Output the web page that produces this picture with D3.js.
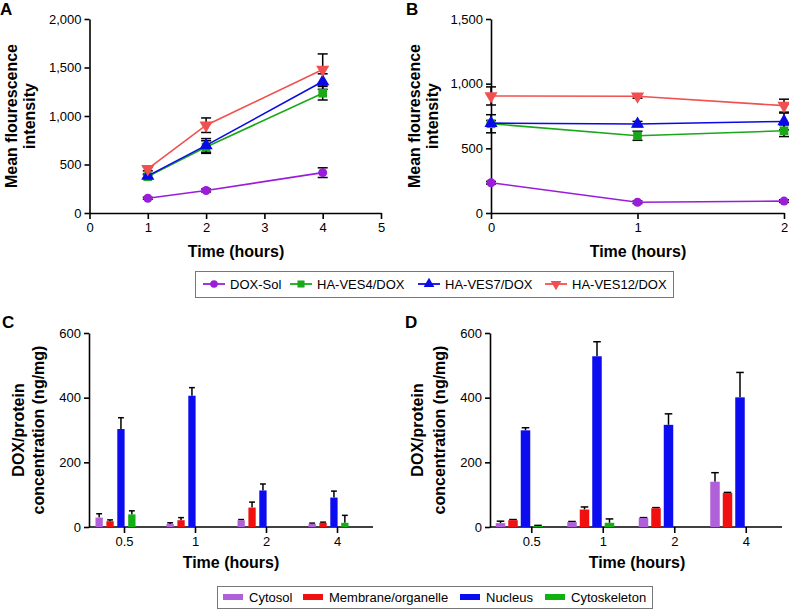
<!DOCTYPE html>
<html><head><meta charset="utf-8">
<script src="https://cdn.jsdelivr.net/npm/d3@7"></script>
<style>body{margin:0;background:#fff} text{font-family:"Liberation Sans",Arial,sans-serif;fill:#000}</style>
</head><body><svg id="c" width="789" height="610"></svg>
<script>
// ---------- DATA ----------
const lineSeries = ["DOX-Sol","HA-VES4/DOX","HA-VES7/DOX","HA-VES12/DOX"];
const timesA = [1,2,4];
const aDoxSol = [152,232,416];   const aDoxSolErr = [10,15,50];
const aVes4   = [375,680,1235];  const aVes4Err   = [20,65,70];
const aVes7   = [383,697,1355];  const aVes7Err   = [20,70,80];
const aVes12  = [455,905,1480];  const aVes12Err  = [20,75,160];
const timesB = [0,1,2];
const bDoxSol = [234,83,92];     const bDoxSolErr = [10,10,10];
const bVes4   = [690,597,636];   const bVes4Err   = [70,35,45];
const bVes7   = [695,688,708];   const bVes7Err   = [20,20,65];
const bVes12  = [905,903,830];   const bVes12Err  = [70,15,50];
const yTicksA = [0,500,1000,1500,2000];
const xTicksA = [0,1,2,3,4,5];
const yTicksB = [0,500,1000,1500];
const xTicksB = [0,1,2];

const barCategories = ["0.5","1","2","4"];
const compartments = ["Cytosol","Membrane/organelle","Nucleus","Cytoskeleton"];
const cCytosol  = [29,9,21,10];    const cCytosolErr  = [12,4,2,2];
const cMembrane = [18,21,60,13];   const cMembraneErr = [4,8,17,2];
const cNucleus  = [303,406,113,91];const cNucleusErr  = [35,25,20,20];
const cCytoskel = [39,0,0,13];     const cCytoskelErr = [11,0,0,23];
const dCytosol  = [12,15,28,140];  const dCytosolErr  = [6,2,1,28];
const dMembrane = [21,54,58,105];  const dMembraneErr = [2,8,2,2];
const dNucleus  = [299,528,316,401];const dNucleusErr = [8,45,34,77];
const dCytoskel = [3,13,0,0];      const dCytoskelErr = [2,12,0,0];
const yTicksCD = [0,200,400,600];

// ---------- STYLE ----------
const lineColors = ["#9b1ddb","#1aa81a","#0a0ae6","#f25050"];
const lineSymbols = [d3.symbolCircle, d3.symbolSquare, d3.symbolTriangle, d3.symbolTriangle];
const barColors = ["#b060d8","#f01010","#0c0cf0","#12b012"];

const svg = d3.select("#c");
svg.append("rect").attr("width",789).attr("height",610).attr("fill","#fff");

function styleAxis(g){
  g.selectAll("path.domain").attr("stroke","#000").attr("stroke-width",1.6);
  g.selectAll(".tick line").attr("stroke","#000").attr("stroke-width",1.6);
  g.selectAll(".tick text").attr("font-size",13).attr("fill","#000")
    .attr("font-family","'Liberation Sans',Arial,sans-serif");
}

function panelLabel(txt,x,y){
  svg.append("text").attr("x",x).attr("y",y).attr("font-size",17).attr("font-weight","bold").text(txt);
}
function yTitle(lines,x1,x2,cy){
  [x1,x2].forEach((x,i)=>{
    svg.append("text").attr("transform",`translate(${x},${cy}) rotate(-90)`)
      .attr("text-anchor","middle").attr("font-size",16).attr("font-weight","bold").text(lines[i]);
  });
}
function xTitle(cx,y){
  svg.append("text").attr("x",cx).attr("y",y).attr("text-anchor","middle")
    .attr("font-size",16).attr("font-weight","bold").text("Time (hours)");
}

function linePanel(p){
  const x = d3.scaleLinear().domain(p.xDomain).range(p.xRange);
  const y = d3.scaleLinear().domain(p.yDomain).range(p.yRange);
  const gx = svg.append("g").attr("transform",`translate(0,${p.yRange[0]})`)
    .call(d3.axisBottom(x).tickValues(p.xTicks).tickFormat(d3.format("d")).tickSize(6).tickSizeOuter(0).tickPadding(4));
  styleAxis(gx);
  const gy = svg.append("g").attr("transform",`translate(${p.xRange[0]},0)`)
    .call(d3.axisLeft(y).tickValues(p.yTicks).tickFormat(d3.format(",")).tickSize(5).tickSizeOuter(0).tickPadding(3));
  styleAxis(gy);
  const line = d3.line().x(d=>x(d.t)).y(d=>y(d.v));
  p.series.forEach((s,si)=>{
    const pts = p.times.map((t,i)=>({t,v:s.v[i],e:s.e[i]}));
    const g = svg.append("g");
    pts.forEach(d=>{
      const cx=x(d.t), yt=y(d.v+d.e), yb=y(d.v-d.e);
      g.append("line").attr("x1",cx).attr("x2",cx).attr("y1",yt).attr("y2",yb).attr("stroke","#000").attr("stroke-width",1.5);
      [yt,yb].forEach(yy=>g.append("line").attr("x1",cx-5).attr("x2",cx+5).attr("y1",yy).attr("y2",yy).attr("stroke","#000").attr("stroke-width",1.5));
    });
  });
  p.series.forEach((s,si)=>{
    const pts = p.times.map((t,i)=>({t,v:s.v[i]}));
    svg.append("path").datum(pts).attr("d",line).attr("fill","none").attr("stroke",lineColors[si]).attr("stroke-width",1.6);
    const sym = d3.symbol().type(lineSymbols[si]).size(si===0?64:75);
    svg.selectAll(null).data(pts).enter().append("path").attr("d",sym)
      .attr("transform",d=>`translate(${x(d.t)},${y(d.v)})${si===3?" rotate(180)":""}`)
      .attr("fill",lineColors[si]);
  });
}

function barPanel(p){
  const x0 = d3.scaleBand().domain(barCategories).range(p.bandRange).paddingInner(0).paddingOuter(0);
  const x1 = d3.scaleBand().domain(compartments).range(p.innerRange).paddingInner(p.innerPad).paddingOuter(0);
  const y = d3.scaleLinear().domain([0,600]).range(p.yRange);
  const gx = svg.append("g").attr("transform",`translate(0,${p.yRange[0]})`)
    .call(d3.axisBottom(x0).tickSize(6).tickSizeOuter(0).tickPadding(4));
  gx.select("path.domain").remove();
  gx.append("line").attr("x1",p.axisX).attr("x2",p.axisEnd).attr("y1",0).attr("y2",0).attr("stroke","#000").attr("stroke-width",1.6);
  styleAxis(gx);
  const gy = svg.append("g").attr("transform",`translate(${p.axisX},0)`)
    .call(d3.axisLeft(y).tickValues(yTicksCD).tickSize(5).tickSizeOuter(0).tickPadding(3));
  styleAxis(gy);
  p.series.forEach((s,si)=>{
    barCategories.forEach((c,ci)=>{
      const v=s.v[ci], e=s.e[ci];
      if(v<=0) return;
      const cx = x0(c)+x0.bandwidth()/2;
      const bx = cx + x1(compartments[si]);
      const bw = x1.bandwidth();
      if(e>0){
        const mx = bx+bw/2;
        svg.append("line").attr("x1",mx).attr("x2",mx).attr("y1",y(v)).attr("y2",y(v+e)).attr("stroke","#000").attr("stroke-width",1.5);
        svg.append("line").attr("x1",mx-bw*0.4).attr("x2",mx+bw*0.4).attr("y1",y(v+e)).attr("y2",y(v+e)).attr("stroke","#000").attr("stroke-width",1.5);
      }
      svg.append("rect").attr("x",bx).attr("width",bw).attr("y",y(v)).attr("height",y(0)-y(v)).attr("fill",barColors[si]);
    });
  });
}

// ---------- PANELS ----------
panelLabel("A",0,15);
linePanel({xDomain:[0,5],xRange:[89.5,381],yDomain:[0,2000],yRange:[213,19],xTicks:xTicksA,yTicks:yTicksA,times:timesA,
  series:[{v:aDoxSol,e:aDoxSolErr},{v:aVes4,e:aVes4Err},{v:aVes7,e:aVes7Err},{v:aVes12,e:aVes12Err}]});
yTitle(["Mean flourescence","intensity"],17,35,116);
xTitle(236,257);

panelLabel("B",406,15);
linePanel({xDomain:[0,2],xRange:[491,784],yDomain:[0,1500],yRange:[213,19],xTicks:xTicksB,yTicks:yTicksB,times:timesB,
  series:[{v:bDoxSol,e:bDoxSolErr},{v:bVes4,e:bVes4Err},{v:bVes7,e:bVes7Err},{v:bVes12,e:bVes12Err}]});
yTitle(["Mean flourescence","intensity"],420,438,116);
xTitle(638,257);

// legend 1
(function(){
  const lx=195, ly=271;
  svg.append("rect").attr("x",lx+0.5).attr("y",ly+0.5).attr("width",478).attr("height",26).attr("fill","none").attr("stroke","#777");
  const itemX=[203,290,418,545];
  lineSeries.forEach((name,i)=>{
    const x=itemX[i], cy=ly+13;
    svg.append("line").attr("x1",x).attr("x2",x+22).attr("y1",cy).attr("y2",cy).attr("stroke",lineColors[i]).attr("stroke-width",1.8);
    svg.append("path").attr("d",d3.symbol().type(lineSymbols[i]).size(i===0?45:50)())
      .attr("transform",`translate(${x+11},${cy})${i===3?" rotate(180)":""}`).attr("fill",lineColors[i]);
    svg.append("text").attr("x",x+27).attr("y",cy).attr("dy","0.35em").attr("font-size",13).text(name);
  });
})();

panelLabel("C",2,328);
barPanel({bandRange:[89,373],axisX:89,axisEnd:373,yRange:[527,333],innerRange:[-29,11],innerPad:0.33,
  series:[{v:cCytosol,e:cCytosolErr},{v:cMembrane,e:cMembraneErr},{v:cNucleus,e:cNucleusErr},{v:cCytoskel,e:cCytoskelErr}]});
yTitle(["DOX/protein","concentration (ng/mg)"],24,44,430);
xTitle(231,568);

panelLabel("D",405,328);
barPanel({bandRange:[496,782],axisX:490,axisEnd:782,yRange:[527,333],innerRange:[-36,11],innerPad:0.24,
  series:[{v:dCytosol,e:dCytosolErr},{v:dMembrane,e:dMembraneErr},{v:dNucleus,e:dNucleusErr},{v:dCytoskel,e:dCytoskelErr}]});
yTitle(["DOX/protein","concentration (ng/mg)"],423,445,430);
xTitle(637,568);

// legend 2
(function(){
  const lx=217, ly=586;
  svg.append("rect").attr("x",lx+0.5).attr("y",ly+0.5).attr("width",435).attr("height",22).attr("fill","none").attr("stroke","#777");
  const itemX=[223,303,460,545];
  compartments.forEach((name,i)=>{
    const x=itemX[i], cy=ly+11;
    svg.append("rect").attr("x",x).attr("y",cy-3).attr("width",20).attr("height",6).attr("fill",barColors[i]);
    svg.append("text").attr("x",x+26).attr("y",cy).attr("dy","0.35em").attr("font-size",13).text(name);
  });
})();
</script></body></html>
